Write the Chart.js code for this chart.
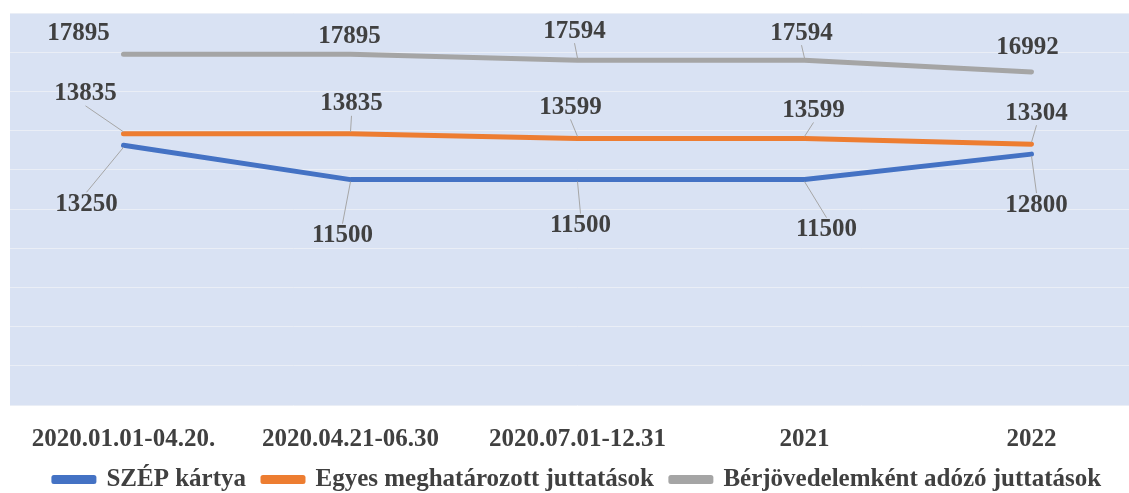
<!doctype html>
<html lang="hu">
<head>
  <meta charset="utf-8">
  <title>Juttatások</title>
  <script src="https://cdn.jsdelivr.net/npm/chart.js"></script>
  <style>
    html, body { margin: 0; padding: 0; background: #fff; overflow: hidden; }
    #wrap { position: relative; width: 1146px; height: 502px; }
  </style>
</head>
<body>
  <div id="wrap"><canvas id="chart"></canvas></div>

  <script>
    // data
    const periods = ['2020.01.01-04.20.', '2020.04.21-06.30', '2020.07.01-12.31', '2021', '2022'];
    const szepKartya = [13250, 11500, 11500, 11500, 12800];
    const egyesJuttatasok = [13835, 13835, 13599, 13599, 13304];
    const berjovedelem = [17895, 17895, 17594, 17594, 16992];

    // label offsets from each point (px) and whether a leader line is drawn
    const labelOffsets = [
      [[-37, 59], [-8, 56], [3, 46], [22, 50], [5, 51]],
      [[-38, -40], [1, -30], [-7, -31], [9, -28], [5, -31]],
      [[-45, -21], [-1, -18], [-3, -29], [-3, -27], [-4, -24]]
    ];
    const leaders = [
      [true, true, true, true, true],
      [true, true, true, true, true],
      [false, false, true, true, false]
    ];

    const serif = '"Liberation Serif", "Times New Roman", serif';

    // light blue plot background
    const plotBg = {
      id: 'plotBg',
      beforeDraw(chart) {
        const a = chart.chartArea, ctx = chart.ctx;
        ctx.save();
        ctx.fillStyle = '#d9e2f3';
        ctx.fillRect(a.left, a.top, a.right - a.left, a.bottom - a.top);
        ctx.restore();
      }
    };

    // value labels with leader lines
    const valueLabels = {
      id: 'valueLabels',
      afterDatasetsDraw(chart) {
        const ctx = chart.ctx;
        ctx.save();
        ctx.font = 'bold 25px ' + serif;
        ctx.textAlign = 'center';
        ctx.textBaseline = 'middle';
        chart.data.datasets.forEach((ds, di) => {
          chart.getDatasetMeta(di).data.forEach((pt, i) => {
            const [dx, dy] = labelOffsets[di][i];
            const lx = pt.x + dx, ly = pt.y + dy;
            if (leaders[di][i]) {
              const sy = ly + (dy > 0 ? -12 : 12);
              const ey = pt.y + (dy > 0 ? 2 : -2);
              ctx.strokeStyle = '#a6a6a6';
              ctx.lineWidth = 1;
              ctx.beginPath();
              ctx.moveTo(lx, sy);
              ctx.lineTo(pt.x, ey);
              ctx.stroke();
            }
            ctx.fillStyle = '#404040';
            ctx.fillText(String(ds.data[i]), lx, ly);
          });
        });
        ctx.restore();
      }
    };

    new Chart(document.getElementById('chart'), {
      type: 'line',
      data: {
        labels: periods,
        datasets: [
          { label: 'SZÉP kártya', data: szepKartya, borderColor: '#4472c4', backgroundColor: '#4472c4' },
          { label: 'Egyes meghatározott juttatások', data: egyesJuttatasok, borderColor: '#ed7d31', backgroundColor: '#ed7d31' },
          { label: 'Bérjövedelemként adózó juttatások', data: berjovedelem, borderColor: '#a5a5a5', backgroundColor: '#a5a5a5' }
        ]
      },
      options: {
        responsive: true,
        maintainAspectRatio: false,
        animation: false,
        layout: { padding: { left: 10, top: 13, right: 1, bottom: 0 } },
        elements: {
          line: { borderWidth: 5, tension: 0, borderCapStyle: 'round', borderJoinStyle: 'round' },
          point: { radius: 0, hoverRadius: 0 }
        },
        scales: {
          x: {
            offset: true,
            grid: { display: false, drawTicks: false },
            border: { display: false },
            ticks: { color: '#404040', font: { family: serif, size: 25, weight: 'bold', lineHeight: 1 }, padding: 22, maxRotation: 0 },
            afterFit(scale) { scale.height = 45; }
          },
          y: {
            min: 0,
            max: 20000,
            ticks: { display: false, stepSize: 2000 },
            grid: { color: '#eaeef6', lineWidth: 1, drawTicks: false },
            border: { display: false }
          }
        },
        plugins: {
          tooltip: { enabled: false },
          legend: {
            position: 'bottom',
            labels: {
              color: '#404040',
              font: { family: serif, size: 25, weight: 'bold' },
              boxWidth: 40,
              boxHeight: 4,
              padding: 17
            }
          }
        }
      },
      plugins: [plotBg, valueLabels]
    });
  </script>
</body>
</html>
